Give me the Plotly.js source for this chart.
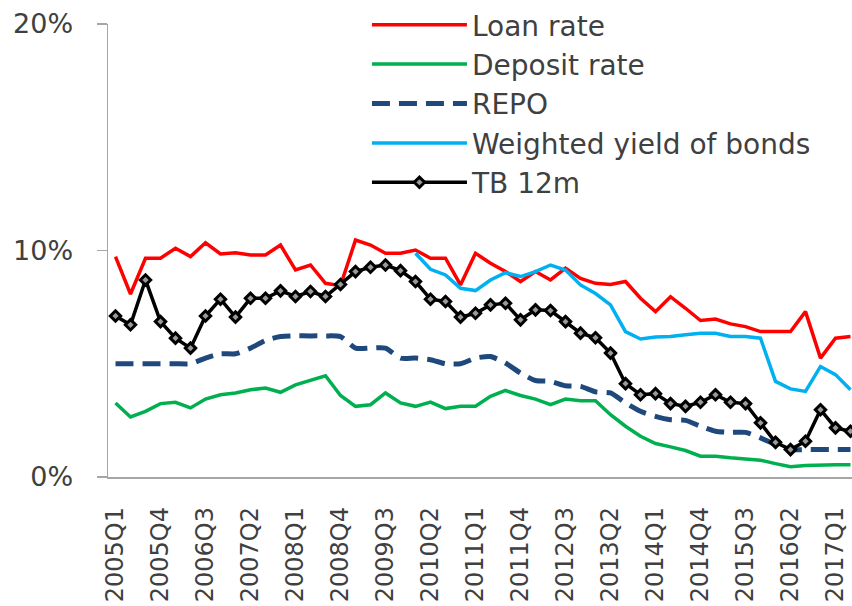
<!DOCTYPE html>
<html>
<head>
<meta charset="utf-8">
<script src="https://cdn.plot.ly/plotly-3.0.1.min.js"></script>
<style>html,body{margin:0;padding:0;background:#fff;}#chart{width:852px;height:606px;}</style>
</head>
<body>
<div id="chart"></div>
<script>
const quarters = [
  "2005Q1","2005Q2","2005Q3","2005Q4","2006Q1","2006Q2","2006Q3","2006Q4",
  "2007Q1","2007Q2","2007Q3","2007Q4","2008Q1","2008Q2","2008Q3","2008Q4",
  "2009Q1","2009Q2","2009Q3","2009Q4","2010Q1","2010Q2","2010Q3","2010Q4",
  "2011Q1","2011Q2","2011Q3","2011Q4","2012Q1","2012Q2","2012Q3","2012Q4",
  "2013Q1","2013Q2","2013Q3","2013Q4","2014Q1","2014Q2","2014Q3","2014Q4",
  "2015Q1","2015Q2","2015Q3","2015Q4","2016Q1","2016Q2","2016Q3","2016Q4",
  "2017Q1","2017Q2"
];
const tickLabels = ["2005Q1","2005Q4","2006Q3","2007Q2","2008Q1","2008Q4","2009Q3","2010Q2","2011Q1","2011Q4","2012Q3","2013Q2","2014Q1","2014Q4","2015Q3","2016Q2","2017Q1"];

const loanRate = [9.73,8.08,9.66,9.66,10.1,9.73,10.34,9.85,9.9,9.8,9.8,10.24,9.14,9.36,8.55,8.45,
  10.46,10.24,9.88,9.88,10.02,9.66,9.66,8.48,9.88,9.44,9.07,8.63,9.07,8.7,9.22,8.77,
  8.55,8.5,8.63,7.89,7.3,7.96,7.45,6.91,6.97,6.76,6.64,6.42,6.42,6.42,7.3,5.25,6.13,6.2];
const depositRate = [3.27,2.65,2.9,3.24,3.3,3.05,3.44,3.63,3.71,3.85,3.93,3.74,4.07,4.26,4.47,3.6,
  3.12,3.19,3.71,3.27,3.12,3.31,3.02,3.12,3.12,3.56,3.82,3.6,3.44,3.19,3.44,3.37,
  3.37,2.75,2.24,1.8,1.48,1.33,1.17,0.92,0.92,0.85,0.8,0.74,0.59,0.45,0.51,0.54,0.54,0.54];
const repo = [5.0,5.0,5.0,5.0,5.0,5.0,5.25,5.44,5.44,5.69,6.03,6.2,6.23,6.23,6.23,6.2,
  5.69,5.69,5.69,5.25,5.25,5.18,5.0,5.0,5.25,5.32,5.03,4.59,4.26,4.22,4.03,4.0,
  3.76,3.71,3.27,2.9,2.68,2.53,2.5,2.24,2.02,1.97,1.97,1.73,1.43,1.21,1.21,1.21,1.21,1.21];
const weightedYield = [null,null,null,null,null,null,null,null,null,null,null,null,null,null,null,null,
  null,null,null,null,9.88,9.17,8.92,8.33,8.23,8.7,9.02,8.85,9.07,9.36,9.14,8.48,
  8.1,7.6,6.42,6.09,6.18,6.2,6.28,6.35,6.35,6.2,6.2,6.13,4.22,3.89,3.78,4.88,4.52,3.85];
const tb12m = [7.11,6.72,8.7,6.86,6.13,5.69,7.11,7.85,7.06,7.89,7.89,8.22,7.97,8.19,7.97,8.5,
  9.07,9.26,9.36,9.11,8.63,7.85,7.75,7.06,7.23,7.6,7.67,6.94,7.38,7.35,6.86,6.35,
  6.15,5.47,4.12,3.63,3.68,3.24,3.12,3.3,3.63,3.3,3.24,2.39,1.53,1.21,1.58,2.97,2.17,2.02];

const FONT = "DejaVu Sans";
const traces = [
  {name:"Loan rate", x:quarters, y:loanRate, type:"scatter", mode:"lines",
   line:{color:"#ff0000", width:3.5}},
  {name:"Deposit rate", x:quarters, y:depositRate, type:"scatter", mode:"lines",
   line:{color:"#00b050", width:3.5}},
  {name:"REPO", x:quarters, y:repo, type:"scatter", mode:"lines",
   line:{color:"#1f497d", width:5, dash:"18px,9px", shape:"spline", smoothing:0.6}},
  {name:"Weighted yield of bonds", x:quarters, y:weightedYield, type:"scatter", mode:"lines",
   line:{color:"#00b0f0", width:3.5}},
  {name:"TB 12m", x:quarters, y:tb12m, type:"scatter", mode:"lines+markers",
   line:{color:"#000000", width:3.5},
   marker:{symbol:"diamond", size:8, color:"#9a9a9a", line:{color:"#000000", width:3}}}
];

const layout = {
  width:852, height:606,
  margin:{l:108, r:0, t:24, b:129, pad:0, autoexpand:false},
  paper_bgcolor:"#ffffff", plot_bgcolor:"#ffffff",
  font:{family:FONT, color:"#404040", size:26},
  showlegend:true,
  legend:{xref:"container", yref:"container", x:0.4307, xanchor:"left", y:1.008, yanchor:"top",
    font:{family:FONT, size:28, color:"#404040"},
    bgcolor:"rgba(255,255,255,0)", itemwidth:95, tracegroupgap:0,
    itemclick:false},
  xaxis:{type:"category", range:[-0.5, 49.1], showgrid:false, zeroline:false,
    showline:true, linecolor:"#a6a6a6", linewidth:1.5, ticks:"",
    tickmode:"array", tickvals:tickLabels, ticktext:tickLabels,
    tickangle:-90, ticklabelstandoff:19,
    tickfont:{family:FONT, size:24, color:"#404040"}},
  yaxis:{range:[0,20], tickmode:"linear", tick0:0, dtick:10, ticksuffix:"%",
    showgrid:false, zeroline:false, showline:true, linecolor:"#a6a6a6", linewidth:1.5,
    ticks:"outside", ticklen:10, tickcolor:"#a6a6a6", tickwidth:1.5,
    ticklabelstandoff:18,
    tickfont:{family:FONT, size:27, color:"#404040"}}
};

Plotly.newPlot("chart", traces, layout, {displayModeBar:false, staticPlot:true});
</script>
</body>
</html>
